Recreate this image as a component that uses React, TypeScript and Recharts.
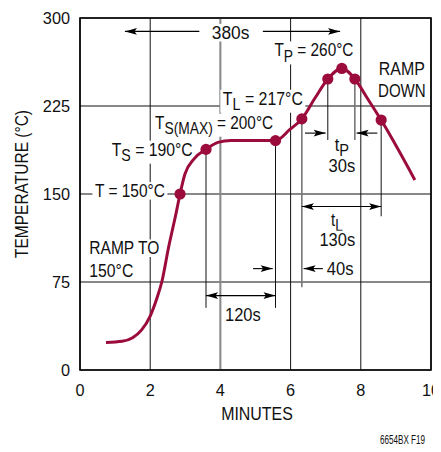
import React from 'react';
import {
  ComposedChart,
  Line,
  Scatter,
  XAxis,
  YAxis,
  CartesianGrid,
  ReferenceLine,
  ReferenceDot,
  ReferenceArea,
} from 'recharts';

// ---- data ----
const curveMinutes = [0.74, 1.2, 1.5, 1.75, 2.0, 2.2, 2.33, 2.52, 2.74, 2.85, 2.99, 3.25, 3.59, 3.93, 4.3, 5.0, 5.57, 5.98, 6.32, 6.7, 7.06, 7.46, 7.83, 8.2, 8.58, 9.54];
const curveTemps = [23.5, 24.5, 27.5, 34, 46, 62, 75, 104, 134, 150, 167, 180, 188, 194, 195.5, 195.5, 195.5, 205, 214, 232, 248, 257, 248, 231, 213, 162];
const markerMinutes = [2.85, 3.59, 5.57, 6.32, 7.06, 7.46, 7.83, 8.58];
const markerTemps = [150, 188, 195.5, 214, 248, 257, 248, 213];
const xTicks = [0, 2, 4, 6, 8, 10];
const yTicks = [0, 75, 150, 225, 300];

// drop lines: [minute, top temp, bottom temp]
const dropLines: [number, number, number][] = [
  [3.59, 188, 53],
  [5.57, 195.5, 53],
  [6.32, 214, 70.5],
  [7.06, 248, 196],
  [7.83, 248, 196],
  [8.58, 213, 131],
];
const dropGray = [false, false, true, false, true, false];

// arrows: [from minute, to minute, temp, both heads]
const arrows: [number, number, number, boolean][] = [
  [3.4, 1.28, 288.6, false],
  [5.21, 7.41, 288.6, false],
  [3.59, 5.57, 63.4, true],
  [4.93, 5.49, 86.4, false],
  [6.92, 6.37, 86.4, false],
  [6.32, 8.58, 139.3, true],
  [6.41, 7.0, 201.9, false],
  [8.47, 7.88, 201.9, false],
];

type Part = { s: string; sub?: boolean };
// annotation texts: parts, minute, temp, anchor
const labelParts: Part[][] = [
  [{ s: '380s' }],
  [{ s: 'T' }, { s: 'P', sub: true }, { s: ' = 260°C' }],
  [{ s: 'RAMP' }],
  [{ s: 'DOWN' }],
  [{ s: 'T' }, { s: 'L', sub: true }, { s: ' = 217°C' }],
  [{ s: 'T' }, { s: 'S(MAX)', sub: true }, { s: ' = 200°C' }],
  [{ s: 'T' }, { s: 'S', sub: true }, { s: ' = 190°C' }],
  [{ s: 'T = 150°C' }],
  [{ s: 'RAMP TO' }],
  [{ s: '150°C' }],
  [{ s: '120s' }],
  [{ s: '40s' }],
  [{ s: 't' }, { s: 'L', sub: true }],
  [{ s: '130s' }],
  [{ s: 't' }, { s: 'P', sub: true }],
  [{ s: '30s' }],
];
const labelMinutes = [4.29, 7.79, 9.17, 9.17, 4.07, 2.14, 3.21, 2.42, 0.265, 0.265, 4.64, 7.41, 7.32, 7.33, 7.46, 7.46];
const labelTemps = [287.5, 272.6, 256.4, 238, 231.4, 211, 188, 152.7, 103.8, 85, 47, 86.4, 128.4, 111.3, 192.4, 174.5];
const labelAnchors = ['middle', 'end', 'middle', 'middle', 'start', 'start', 'end', 'end', 'start', 'start', 'middle', 'middle', 'middle', 'middle', 'middle', 'middle'];
// rendered text widths (px)
const labelWidths = [37.6, 79, 46, 47.7, 80, 118, 81, 70, 70, 44, 35.7, 26.7, 11.7, 35.7, 14.3, 26.7];

const curveData = curveMinutes.map((m, i) => ({ m, t: curveTemps[i] }));
const markerData = markerMinutes.map((m, i) => ({ m, t: markerTemps[i] }));

const RED = '#9B0B3B';
const FONT = "'Liberation Sans', Arial, Helvetica, sans-serif";
const ANNO_SIZE = 17.5;
const TICK_SIZE = 16.3;

function AnnoText({ cx, cy, parts, anchor, width }: any) {
  const size = ANNO_SIZE;
  const cap = size * 0.716;
  const hasSub = parts.some((p: Part) => p.sub);
  const left = anchor === 'start' ? cx : anchor === 'middle' ? cx - width / 2 : cx - width;
  const pad = 2.5;
  const children: any[] = [];
  let inSub = false;
  parts.forEach((p: Part, i: number) => {
    let dy = 0;
    if (p.sub && !inSub) dy = 5.5;
    if (!p.sub && inSub) dy = -5.5;
    inSub = !!p.sub;
    children.push(
      <tspan key={i} dy={dy} fontSize={p.sub ? size * 0.9 : size}>
        {p.s}
      </tspan>
    );
  });
  return (
    <g>
      <rect
        x={left - pad}
        y={cy - cap / 2 - pad}
        width={width + 2 * pad}
        height={cap + 2 * pad + (hasSub ? 5.5 : 0)}
        fill="#fff"
      />
      <text
        x={cx}
        y={cy + cap / 2}
        textAnchor={anchor}
        fontSize={size}
        fontFamily={FONT}
        fill="#111"
        textLength={width}
        lengthAdjust="spacingAndGlyphs"
      >
        {children}
      </text>
    </g>
  );
}

function Arrow({ x1, y1, x2, y2, both }: any) {
  const len = 12;
  const hw = 3.4;
  const dir = Math.sign(x2 - x1) || 1;
  const head = (tipX: number, d: number) => (
    <path
      d={`M${tipX},${y2} L${tipX - d * len},${y2 - hw} L${tipX - d * len * 0.8},${y2} L${tipX - d * len},${y2 + hw} Z`}
      fill="#000"
    />
  );
  return (
    <g>
      <line x1={x1} y1={y1} x2={x2} y2={y2} stroke="#000" strokeWidth={1.1} />
      {head(x2, dir)}
      {both ? head(x1, -dir) : null}
    </g>
  );
}

function XTick(p: any) {
  return (
    <text x={p.x} y={p.y + TICK_SIZE * 0.716} textAnchor="middle" fontSize={TICK_SIZE} fontFamily={FONT} fill="#111">
      {p.payload.value}
    </text>
  );
}

function YTick(p: any) {
  return (
    <text x={p.x} y={p.y + (TICK_SIZE * 0.716) / 2} textAnchor="end" fontSize={TICK_SIZE} fontFamily={FONT} fill="#111">
      {p.payload.value}
    </text>
  );
}

function XTitle(p: any) {
  const vb = p.viewBox || { x: 72, y: 362, width: 351, height: 40 };
  const size = 18;
  const cap = size * 0.716;
  return (
    <g>
      <text
        x={vb.x + vb.width / 2 + 1.5}
        y={vb.y + 43.5 + cap / 2}
        textAnchor="middle"
        fontSize={size}
        fontFamily={FONT}
        fill="#111"
        textLength={71.7}
        lengthAdjust="spacingAndGlyphs"
      >
        MINUTES
      </text>
      <text
        x={vb.x + vb.width - 6}
        y={vb.y + 69.3 + 4.5}
        textAnchor="end"
        fontSize={12.5}
        fontFamily={FONT}
        fill="#111"
        textLength={45}
        lengthAdjust="spacingAndGlyphs"
      >
        6654BX F19
      </text>
    </g>
  );
}

function YTitle(p: any) {
  const vb = p.viewBox || { x: 12, y: 10, width: 60, height: 352 };
  const size = 18;
  const cap = size * 0.716;
  const cx = vb.x + 1.7;
  const cy = vb.y + vb.height / 2 - 10;
  return (
    <text
      x={cx}
      y={cy + cap / 2}
      transform={`rotate(-90, ${cx}, ${cy})`}
      textAnchor="middle"
      fontSize={size}
      fontFamily={FONT}
      fill="#111"
      textLength={148}
      lengthAdjust="spacingAndGlyphs"
    >
      TEMPERATURE (°C)
    </text>
  );
}

export default function App() {
  return (
    <div style={{ width: 433, height: 444, background: '#fff' }}>
      <ComposedChart width={433} height={444} margin={{ top: 10, right: 10, bottom: 42, left: 12 }}>
        <CartesianGrid stroke="#111" strokeWidth={1} />
        <XAxis
          type="number"
          dataKey="m"
          domain={[0, 10]}
          ticks={xTicks}
          tickLine={false}
          axisLine={false}
          tickSize={6}
          tickMargin={8}
          height={40}
          tick={XTick}
          label={{ content: XTitle }}
        />
        <YAxis
          type="number"
          dataKey="t"
          domain={[0, 300]}
          ticks={yTicks}
          tickLine={false}
          axisLine={false}
          tickSize={6}
          tickMargin={4}
          width={60}
          tick={YTick}
          label={{ content: YTitle }}
        />
        <ReferenceLine x={4} stroke="#8a8a8a" strokeWidth={2} zIndex={250} />
        <ReferenceArea x1={0} x2={10} y1={0} y2={300} fill="none" stroke="#000" strokeWidth={1.6} fillOpacity={0} zIndex={250} />
        {dropLines.map((d, i) => (
          <ReferenceLine
            key={'d' + i}
            segment={[
              { x: d[0], y: d[1] },
              { x: d[0], y: d[2] },
            ]}
            stroke={dropGray[i] ? '#777' : '#111'}
            strokeWidth={dropGray[i] ? 1.6 : 1}
            zIndex={300}
          />
        ))}
        {arrows.map((a, i) => (
          <ReferenceLine
            key={'a' + i}
            segment={[
              { x: a[0], y: a[2] },
              { x: a[1], y: a[2] },
            ]}
            zIndex={300}
            shape={(p: any) => <Arrow x1={p.x1} y1={p.y1} x2={p.x2} y2={p.y2} both={a[3]} />}
          />
        ))}
        {labelParts.map((parts, i) => (
          <ReferenceDot
            key={'l' + i}
            x={labelMinutes[i]}
            y={labelTemps[i]}
            r={0}
            zIndex={350}
            shape={(p: any) => (
              <AnnoText cx={p.cx} cy={p.cy} parts={parts} anchor={labelAnchors[i]} width={labelWidths[i]} />
            )}
          />
        ))}
        <Line
          data={curveData}
          dataKey="t"
          type="monotone"
          stroke={RED}
          strokeWidth={3}
          dot={false}
          activeDot={false}
          isAnimationActive={false}
          zIndex={400}
        />
        <Scatter
          data={markerData}
          dataKey="t"
          isAnimationActive={false}
          zIndex={600}
          shape={(p: any) => <circle cx={p.cx} cy={p.cy} r={5.6} fill={RED} />}
        />
      </ComposedChart>
    </div>
  );
}
